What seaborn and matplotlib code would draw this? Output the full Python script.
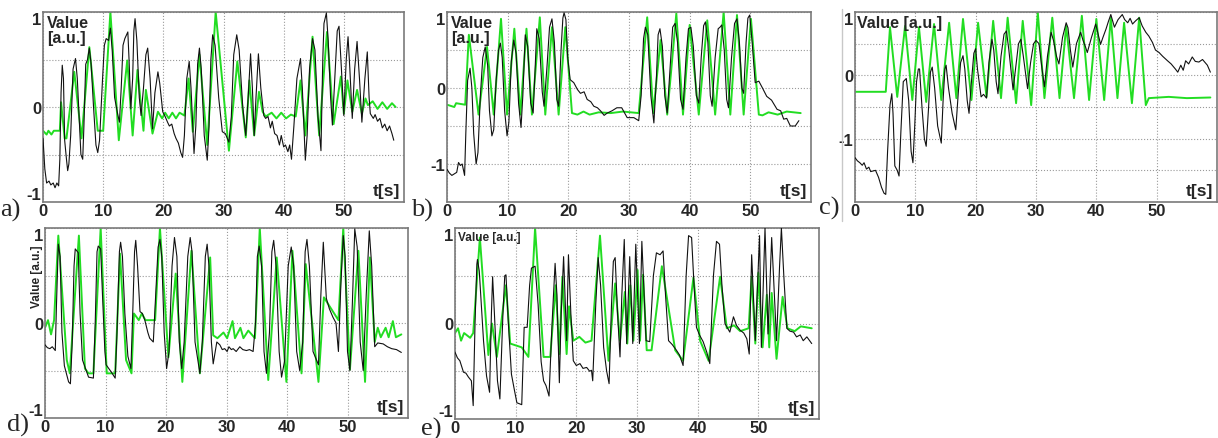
import numpy as np
import pandas as pd
import matplotlib
matplotlib.use("Agg")
import matplotlib.pyplot as plt
import seaborn as sns
from matplotlib.lines import Line2D

# -------------- data: (t [s], value [a.u.]) --------------

a_black = [(0, -0.33), (0.3, -0.65), (0.6, -0.80), (1.0, -0.78), (1.3, -0.82), (1.7, -0.80), (2.0, -0.85),
           (2.3, -0.80), (2.6, -0.83), (2.8, -0.55), (3.0, 0.15), (3.2, 0.44), (3.4, 0.30), (3.6, -0.35),
           (3.9, -0.55), (4.1, -0.67), (4.3, -0.60), (4.6, -0.30), (5.0, 0.40), (5.4, 0.51), (5.7, 0.30),
           (6.0, -0.10), (6.3, -0.50), (6.6, -0.55), (6.8, -0.20), (7.1, 0.45), (7.4, 0.50), (7.7, 0.62),
           (8.0, 0.45), (8.4, 0.0), (8.8, -0.40), (9.1, -0.48), (9.4, -0.35), (9.9, 0.30), (10.2, 0.65),
           (10.5, 0.72), (10.9, 0.70), (11.2, 0.83), (11.5, 0.60), (11.9, 0.10), (12.4, -0.07), (12.7, -0.16),
           (13.0, 0.20), (13.3, 0.65), (13.6, 0.72), (14.1, 0.79), (14.3, 0.50), (14.6, -0.02), (14.9, 0.30),
           (15.1, 0.80), (15.3, 0.93), (15.6, 0.70), (16.0, 0.10), (16.3, -0.09), (16.7, 0.20), (17.1, 0.55),
           (17.4, 0.62), (17.8, 0.30), (18.2, -0.23), (18.6, 0.15), (19.1, 0.37), (19.4, 0.25), (19.9, -0.05),
           (20.3, -0.10), (20.7, -0.16), (21.0, -0.20), (21.4, -0.18), (21.8, -0.28), (22.1, -0.33),
           (22.5, -0.38), (22.9, -0.48), (23.2, -0.53), (23.5, -0.30), (23.9, 0.30), (24.3, 0.48), (24.6, 0.20),
           (25.1, -0.49), (25.4, -0.20), (25.7, 0.45), (26.0, 0.62), (26.3, 0.40), (26.8, -0.30), (27.3, -0.56),
           (27.6, -0.20), (27.9, 0.50), (28.2, 0.76), (28.6, 0.65), (29.2, 0.10), (29.8, -0.26), (30.3, -0.28),
           (30.9, -0.37), (31.3, -0.10), (31.7, 0.55), (32.2, 0.76), (32.6, 0.60), (33.2, 0.0), (33.7, -0.30),
           (34.1, 0.10), (34.5, 0.56), (34.8, 0.20), (35.1, -0.30), (35.4, 0.10), (35.8, 0.56), (36.2, 0.20),
           (36.7, -0.09), (37.0, -0.12), (37.4, -0.10), (37.8, -0.22), (38.1, -0.15), (38.5, -0.28),
           (38.9, -0.30), (39.3, -0.40), (39.6, -0.30), (40.0, -0.42), (40.3, -0.40), (40.7, -0.47),
           (41.0, -0.40), (41.3, -0.55), (41.7, -0.20), (42.2, 0.30), (42.8, 0.51), (43.1, 0.20), (43.6, -0.56),
           (43.9, -0.30), (44.3, 0.40), (44.8, 0.72), (45.2, 0.60), (45.7, -0.10), (46.2, -0.46), (46.5, 0.50),
           (46.7, 0.88), (47.1, 0.99), (47.4, 0.70), (47.8, 0.10), (48.1, -0.19), (48.5, 0.30), (48.9, 0.80),
           (49.2, 0.85), (49.6, 0.40), (50.0, -0.09), (50.4, 0.50), (50.7, 0.74), (51.0, 0.40), (51.4, -0.12),
           (51.8, 0.40), (52.2, 0.69), (52.6, 0.30), (53.0, -0.16), (53.5, 0.30), (53.9, 0.58), (54.2, 0.10),
           (54.4, -0.07), (54.9, -0.12), (55.2, -0.08), (55.6, -0.15), (56.0, -0.12), (56.4, -0.22),
           (56.8, -0.18), (57.2, -0.25), (57.6, -0.20), (58.0, -0.28), (58.3, -0.35)]
a_green = [(0, -0.25), (0.6, -0.29), (0.9, -0.25), (1.4, -0.29), (1.8, -0.25), (2.8, -0.25), (3.0, 0.05),
           (3.6, -0.33), (3.9, -0.33), (5.2, 0.37), (6.4, -0.33), (7.7, 0.63), (9.1, -0.25), (10.0, -0.25),
           (11.2, 1.0), (12.6, -0.35), (14.0, 0.49), (14.9, -0.30), (15.7, 0.39), (16.7, -0.25), (17.1, 0.18),
           (18.2, -0.28), (19.1, -0.05), (19.8, -0.12), (20.3, -0.06), (20.9, -0.12), (21.5, -0.06),
           (22.1, -0.12), (22.7, -0.06), (23.5, -0.09), (24.2, 0.30), (24.9, -0.26), (26.0, 0.55),
           (27.3, -0.40), (28.7, 1.0), (30.9, -0.46), (32.3, 0.48), (33.7, -0.32), (34.3, 0.28), (35.1, -0.30),
           (35.9, 0.16), (36.5, -0.05), (37.0, -0.10), (38.0, -0.06), (38.8, -0.12), (39.6, -0.06),
           (40.4, -0.12), (41.2, -0.08), (42.0, -0.10), (42.8, 0.28), (43.6, -0.30), (44.8, 0.74),
           (45.9, -0.30), (47.2, 0.79), (48.3, -0.18), (49.5, 0.32), (50.0, -0.07), (50.6, 0.28), (51.4, -0.05),
           (52.2, 0.18), (53.0, -0.07), (53.6, 0.09), (54.0, 0.02), (54.8, 0.06), (55.6, -0.02), (56.4, 0.05),
           (57.2, -0.02), (58.0, 0.04), (58.6, 0.0)]

b_black = [(0, -1.07), (0.4, -1.12), (0.8, -1.15), (1.2, -1.13), (1.6, -1.11), (1.9, -0.98), (2.2, -1.02),
           (2.5, -1.0), (2.9, -1.15), (3.1, -0.60), (3.4, 0.10), (3.8, 0.26), (4.1, 0.0), (4.4, -0.60),
           (4.8, -1.0), (5.1, -0.85), (5.5, -0.10), (5.9, 0.40), (6.3, 0.54), (6.7, 0.30), (7.0, -0.30),
           (7.4, -0.63), (7.7, -0.55), (8.1, 0.10), (8.5, 0.50), (8.8, 0.59), (9.1, 0.40), (9.5, -0.30),
           (9.9, -0.63), (10.2, -0.45), (10.6, 0.35), (11.0, 0.63), (11.4, 0.45), (11.8, -0.20), (12.2, -0.52),
           (12.5, -0.10), (12.9, 0.70), (13.3, 0.55), (13.8, -0.20), (14.2, -0.33), (14.5, 0.20), (14.8, 0.78),
           (15.2, 0.65), (15.7, -0.05), (16.0, -0.24), (16.5, 0.30), (16.9, 0.80), (17.3, 0.91), (17.7, 0.60),
           (18.1, -0.15), (18.4, -0.24), (18.8, 0.50), (19.1, 0.92), (19.3, 0.99), (19.6, 0.90), (19.9, 0.40),
           (20.3, 0.11), (20.9, 0.07), (21.5, -0.02), (22.0, -0.07), (22.6, -0.05), (23.1, -0.15),
           (23.7, -0.18), (24.2, -0.24), (24.8, -0.26), (25.3, -0.30), (25.9, -0.36), (26.4, -0.33),
           (27.2, -0.30), (28.0, -0.26), (28.8, -0.26), (29.7, -0.39), (30.8, -0.39), (31.6, -0.43),
           (32.0, -0.10), (32.4, 0.65), (32.7, 0.80), (33.1, 0.70), (33.6, -0.10), (34.1, -0.46), (34.5, 0.10),
           (34.8, 0.70), (35.1, 0.78), (35.5, 0.55), (35.9, -0.10), (36.3, -0.33), (36.8, 0.30), (37.2, 0.80),
           (37.6, 0.85), (38.0, 0.60), (38.5, -0.15), (38.9, -0.28), (39.4, 0.40), (39.8, 0.78), (40.2, 0.80),
           (40.6, 0.55), (41.1, -0.10), (41.5, -0.20), (41.9, 0.40), (42.3, 0.82), (42.6, 0.87), (43.0, 0.60),
           (43.4, -0.10), (43.7, -0.24), (44.2, 0.40), (44.7, 0.78), (45.0, 0.80), (45.3, 0.83), (45.7, 0.50),
           (46.1, -0.15), (46.4, -0.26), (46.9, 0.40), (47.4, 0.85), (47.8, 0.91), (48.2, 0.60), (48.6, 0.0),
           (48.9, -0.07), (49.3, 0.60), (49.6, 0.92), (49.9, 0.96), (50.3, 0.60), (50.8, 0.07), (51.4, 0.09),
           (52.0, 0.0), (52.7, -0.11), (53.5, -0.16), (54.4, -0.28), (55.0, -0.30), (55.5, -0.41),
           (56.0, -0.40), (56.6, -0.50), (57.4, -0.50), (58.0, -0.43)]
b_green = [(0, -0.22), (1.2, -0.25), (1.5, -0.20), (3.0, -0.22), (3.6, 0.70), (5.2, -0.35), (6.6, 0.54),
           (7.7, -0.35), (8.9, 0.91), (9.9, -0.35), (11.1, 0.78), (12.1, -0.35), (13.1, 0.78), (14.0, -0.35),
           (15.3, 0.93), (16.2, -0.35), (17.3, 0.80), (18.4, -0.35), (19.5, 0.80), (20.6, -0.33),
           (21.5, -0.35), (22.5, -0.31), (23.5, -0.35), (25.0, -0.32), (27.0, -0.33), (29.0, -0.31),
           (31.6, -0.33), (33.0, 0.93), (34.0, -0.33), (35.2, 0.63), (36.3, -0.35), (37.8, 0.98),
           (38.9, -0.35), (40.0, 0.83), (41.5, -0.35), (42.9, 0.89), (44.2, -0.35), (45.6, 1.0), (46.7, -0.35),
           (47.8, 0.96), (48.9, -0.35), (50.1, 0.91), (51.4, -0.35), (52.0, -0.36), (53.0, -0.32),
           (54.5, -0.35), (56.0, -0.31), (58.3, -0.33)]

c_black = [(0, -1.30), (0.4, -1.35), (0.8, -1.38), (1.2, -1.42), (1.5, -1.38), (1.9, -1.48), (2.3, -1.45),
           (2.6, -1.52), (3.0, -1.51), (3.4, -1.50), (3.9, -1.61), (4.4, -1.77), (4.8, -1.86), (5.1, -1.88),
           (5.4, -1.20), (5.8, -0.47), (6.1, -0.29), (6.3, -0.60), (6.6, -1.43), (7.0, -1.50), (7.3, -1.59),
           (7.6, -0.90), (8.0, -0.10), (8.5, -0.05), (8.9, -0.40), (9.3, -1.20), (9.6, -1.38), (9.9, -0.80),
           (10.2, -0.10), (10.5, 0.10), (10.7, 0.10), (11.1, -0.50), (11.5, -1.00), (11.8, -1.12),
           (12.2, -0.50), (12.5, 0.05), (12.8, 0.13), (13.2, -0.20), (13.7, -0.80), (14.3, -1.07),
           (14.6, -0.40), (14.9, 0.10), (15.1, 0.16), (15.5, -0.20), (16.1, -0.60), (16.7, -0.86),
           (17.1, -0.30), (17.5, 0.20), (17.9, 0.31), (18.2, 0.10), (18.6, -0.40), (18.9, -0.60), (19.3, -0.10),
           (19.7, 0.35), (20.0, 0.42), (20.3, 0.10), (20.9, -0.34), (21.3, -0.30), (21.8, -0.36), (22.2, 0.20),
           (22.7, 0.57), (23.0, 0.40), (23.4, -0.10), (23.7, -0.29), (24.2, 0.30), (24.7, 0.65), (25.1, 0.70),
           (25.5, 0.40), (26.2, -0.23), (26.6, 0.10), (27.1, 0.50), (27.5, 0.57), (27.9, 0.30), (28.6, -0.21),
           (29.1, 0.20), (29.6, 0.50), (30.0, 0.55), (30.5, 0.50), (31.0, 0.10), (31.4, -0.18), (31.9, 0.30),
           (32.5, 0.68), (32.9, 0.55), (33.4, 0.30), (33.8, 0.18), (34.4, 0.60), (35.0, 0.83), (35.3, 0.75),
           (35.7, 0.40), (36.1, 0.13), (36.7, 0.50), (37.4, 0.68), (37.8, 0.55), (38.2, 0.45), (38.5, 0.36),
           (39.2, 0.60), (39.9, 0.81), (40.3, 0.65), (40.7, 0.49), (41.1, 0.60), (41.6, 0.73), (42.0, 0.85),
           (42.4, 0.96), (43.0, 0.76), (43.6, 0.88), (44.3, 0.96), (44.7, 0.88), (45.2, 0.83), (45.6, 0.90),
           (46.0, 0.81), (46.5, 0.86), (47.1, 0.91), (47.6, 0.78), (48.2, 0.68), (48.7, 0.62), (49.3, 0.52),
           (49.8, 0.40), (50.4, 0.36), (51.0, 0.30), (51.8, 0.23), (52.4, 0.18), (53.1, 0.10), (53.5, 0.05),
           (54.0, 0.16), (54.4, 0.08), (54.8, 0.23), (55.3, 0.18), (55.9, 0.29), (56.4, 0.22), (57.0, 0.21),
           (57.6, 0.25), (58.4, 0.16), (58.9, 0.05)]
c_green = [(0, -0.26), (5.1, -0.26), (5.8, 0.76), (7.0, -0.34), (8.3, 0.78), (9.5, -0.39), (10.6, 0.76),
           (11.8, -0.42), (13.1, 0.81), (14.3, -0.39), (15.6, 0.83), (16.8, -0.36), (17.9, 0.89), (19.3, -0.39),
           (20.4, 0.83), (21.8, -0.34), (22.9, 0.86), (24.2, -0.36), (25.3, 0.91), (26.7, -0.44), (27.8, 0.86),
           (29.2, -0.47), (30.3, 0.99), (31.4, -0.36), (32.7, 0.91), (33.9, -0.36), (35.0, 0.78), (36.3, -0.36),
           (37.6, 0.94), (38.8, -0.39), (40.0, 0.89), (41.3, -0.39), (42.4, 0.91), (43.5, -0.36), (44.6, 0.83),
           (45.9, -0.44), (47.1, 0.91), (48.2, -0.47), (48.7, -0.36), (52.0, -0.34), (55.0, -0.36),
           (58.9, -0.35)]

d_black = [(0, -0.23), (0.4, -0.26), (0.8, -0.27), (1.2, -0.25), (1.7, -0.29), (1.9, 0.20), (2.2, 0.83),
           (2.5, 0.70), (2.8, -0.10), (3.2, -0.45), (3.9, -0.62), (4.2, -0.64), (4.5, -0.20), (4.8, 0.60),
           (5.0, 0.78), (5.5, 0.74), (5.8, 0.10), (6.2, -0.39), (7.2, -0.57), (8.0, -0.58), (8.3, 0.0),
           (8.6, 0.75), (8.8, 0.81), (9.2, 0.78), (9.5, 0.30), (9.9, -0.30), (10.1, -0.44), (11.0, -0.52),
           (11.6, -0.58), (11.9, -0.10), (12.3, 0.75), (12.5, 0.85), (12.8, 0.70), (13.2, 0.10), (13.7, -0.35),
           (14.2, -0.48), (14.5, 0.10), (14.8, 0.75), (15.0, 0.87), (15.3, 0.60), (15.7, 0.12), (16.1, 0.10),
           (16.5, 0.03), (17.0, -0.10), (17.3, -0.16), (17.9, -0.20), (18.3, 0.30), (18.7, 0.80), (19.0, 0.88),
           (19.3, 0.70), (19.7, -0.10), (20.1, -0.48), (20.5, -0.30), (21.0, 0.60), (21.4, 0.90), (21.8, 0.70),
           (22.2, -0.20), (22.6, -0.48), (23.0, -0.20), (23.6, 0.70), (24.0, 0.90), (24.3, 0.75), (24.8, -0.20),
           (25.6, -0.53), (26.0, -0.20), (26.5, 0.70), (26.8, 0.83), (27.1, 0.60), (27.5, -0.20), (27.8, -0.43),
           (28.4, -0.20), (28.9, -0.23), (29.3, -0.28), (29.7, -0.27), (30.1, -0.30), (30.4, -0.25),
           (30.8, -0.28), (31.1, -0.27), (31.6, -0.30), (32.2, -0.25), (32.7, -0.28), (33.3, -0.29),
           (33.8, -0.28), (34.4, -0.30), (34.8, 0.0), (35.1, 0.70), (35.4, 0.81), (35.8, 0.60), (36.2, -0.30),
           (36.6, -0.53), (37.1, -0.10), (37.5, 0.75), (37.8, 0.87), (38.2, 0.60), (38.7, -0.30), (39.1, -0.57),
           (39.6, -0.40), (40.2, 0.60), (40.7, 0.80), (41.1, 0.60), (41.6, -0.30), (42.1, -0.50), (42.6, -0.20),
           (43.0, 0.75), (43.3, 0.88), (43.7, 0.60), (44.3, -0.30), (45.2, -0.44), (45.6, 0.30), (46.0, 0.85),
           (46.3, 0.50), (46.5, 0.26), (47.0, 0.15), (47.6, 0.06), (48.1, 0.0), (48.5, -0.30), (48.9, 0.40),
           (49.3, 0.92), (49.6, 0.70), (50.0, -0.30), (50.4, -0.50), (50.8, 0.20), (51.2, 0.99), (51.6, 0.80),
           (52.1, -0.20), (52.6, -0.50), (53.1, 0.30), (53.6, 0.97), (54.0, 0.60), (54.5, -0.25), (55.0, -0.21),
           (55.9, -0.22), (56.6, -0.25), (57.3, -0.27), (58.1, -0.28), (58.9, -0.31)]
d_green = [(0, -0.05), (0.5, 0.03), (1.0, -0.12), (1.5, 0.03), (2.2, 0.92), (3.6, -0.39), (4.1, -0.53),
           (5.6, 0.92), (6.6, -0.48), (7.2, -0.53), (8.0, -0.53), (9.2, 1.0), (10.2, -0.53), (11.6, -0.53),
           (12.4, 0.73), (13.4, -0.39), (14.3, -0.53), (14.7, 0.10), (15.5, 0.03), (16.0, 0.10), (16.6, 0.03),
           (17.2, 0.03), (18.2, 0.03), (19.0, 1.0), (20.4, -0.36), (21.6, 0.52), (22.7, -0.62), (24.2, 0.76),
           (25.6, -0.53), (27.3, 0.69), (27.8, -0.13), (28.5, -0.16), (29.5, -0.10), (30.1, -0.16),
           (31.0, 0.02), (31.4, -0.16), (32.3, -0.05), (32.8, -0.16), (33.6, -0.08), (34.7, -0.16), (35.5, 1.0),
           (36.9, -0.60), (38.3, 0.69), (39.9, -0.62), (40.9, 0.76), (42.4, -0.53), (43.1, 0.62), (45.2, -0.62),
           (46.1, 0.27), (47.1, 0.17), (48.5, 0.03), (49.3, 1.0), (50.4, -0.49), (51.8, 0.76), (52.9, -0.62),
           (53.7, 0.69), (54.5, -0.20), (55.0, -0.05), (55.5, -0.15), (56.3, -0.05), (56.8, -0.15),
           (57.5, 0.02), (58.0, -0.15), (58.9, -0.12)]

e_black = [(0, -0.30), (0.4, -0.36), (0.8, -0.39), (1.1, -0.45), (1.4, -0.51), (1.8, -0.52), (2.2, -0.56),
           (2.7, -0.60), (3.0, -0.86), (3.3, 0.0), (3.6, 0.62), (3.7, 0.67), (4.0, 0.55), (4.7, -0.18),
           (5.2, -0.55), (5.7, -0.72), (6.0, 0.10), (6.2, 0.49), (6.5, 0.10), (7.0, -0.60), (7.4, -0.79),
           (7.9, 0.10), (8.2, 0.50), (8.4, 0.51), (8.8, 0.0), (9.3, -0.53), (9.8, -0.70), (10.2, -0.83),
           (11.0, -0.85), (11.4, -0.04), (11.9, -0.04), (12.3, 0.40), (12.6, 0.58), (13.2, 0.60), (13.7, 0.20),
           (14.2, -0.40), (14.6, -0.60), (15.0, -0.65), (15.5, -0.76), (16.0, 0.0), (16.5, 0.63), (16.8, 0.30),
           (17.2, -0.62), (17.5, 0.10), (17.9, 0.70), (18.4, -0.18), (18.7, 0.72), (19.1, 0.10), (19.5, -0.39),
           (20.0, -0.44), (20.6, -0.42), (21.1, -0.47), (21.7, -0.46), (22.2, -0.50), (22.5, -0.49),
           (22.7, -0.60), (23.2, 0.20), (23.6, 0.69), (24.0, 0.40), (24.5, -0.25), (25.0, -0.50), (25.4, -0.63),
           (25.8, 0.20), (26.1, 0.65), (26.4, 0.69), (26.8, 0.10), (27.2, -0.35), (27.5, 0.30), (27.9, 0.88),
           (28.3, -0.21), (28.8, 0.70), (29.3, -0.21), (29.8, 0.83), (30.4, -0.21), (30.8, 0.86), (31.5, -0.18),
           (32.1, -0.19), (32.7, 0.50), (33.2, 0.74), (33.8, 0.72), (34.3, 0.76), (34.7, 0.30), (35.2, -0.18),
           (35.8, -0.22), (36.5, -0.28), (37.0, -0.33), (37.6, -0.44), (38.1, 0.50), (38.5, 0.92), (39.0, 0.90),
           (39.4, 0.40), (39.8, -0.04), (40.3, -0.12), (40.9, -0.19), (41.5, -0.30), (42.0, -0.42),
           (42.6, 0.50), (43.1, 0.86), (43.6, 0.83), (44.0, 0.40), (44.5, 0.0), (45.3, -0.09), (45.9, 0.07),
           (46.4, -0.02), (47.0, -0.07), (47.6, -0.10), (48.1, -0.16), (48.5, -0.32), (48.9, 0.72),
           (49.5, -0.18), (50.2, 0.92), (50.5, -0.25), (51.1, 1.0), (51.6, -0.11), (52.2, 0.90), (53.0, -0.18),
           (53.5, 0.60), (53.8, 1.0), (54.2, 0.50), (54.7, -0.05), (55.2, -0.08), (55.8, -0.09), (56.3, -0.14),
           (56.9, -0.12), (57.4, -0.18), (58.0, -0.14), (58.8, -0.21)]
e_green = [(0, -0.10), (0.5, -0.05), (1.0, -0.18), (1.5, -0.10), (2.5, -0.15), (3.0, -0.10), (4.1, 0.90),
           (5.5, -0.33), (6.1, 0.0), (6.9, -0.35), (8.4, 0.40), (9.1, -0.21), (11.0, -0.25), (12.1, -0.35),
           (13.2, 1.0), (14.6, -0.35), (15.7, -0.35), (16.6, 0.40), (17.2, -0.32), (17.7, 0.49), (18.4, -0.32),
           (18.8, 0.18), (19.5, -0.18), (20.5, -0.14), (21.5, -0.20), (22.5, -0.18), (23.9, 0.92),
           (25.3, -0.39), (26.4, 0.42), (27.2, -0.18), (28.0, 0.33), (28.4, -0.21), (28.9, 0.40), (29.4, -0.18),
           (30.1, 0.56), (30.5, -0.18), (31.0, 0.51), (31.6, -0.28), (32.4, -0.28), (34.1, 0.60), (36.3, -0.28),
           (37.6, -0.39), (39.3, 0.48), (40.4, -0.18), (41.8, -0.39), (43.7, 0.49), (44.8, -0.05),
           (46.0, -0.02), (47.0, -0.08), (48.4, -0.05), (48.9, 0.49), (49.5, -0.21), (50.0, 0.53),
           (50.7, -0.25), (51.4, 0.30), (51.8, -0.25), (52.2, 0.32), (53.0, -0.37), (54.0, 0.28), (54.8, -0.05),
           (56.0, -0.08), (57.0, -0.03), (58.8, -0.05)]

x_ticks = [0, 10, 20, 30, 40, 50]
letters = ["a)", "b)", "c)", "d)", "e)"]

# -------------- layout (pixels in a 1218 x 439 figure) --------------
W, H = 1218, 439
panels = [
    # black, green, (left, top, right, bottom), ylim
    (a_black, a_green, (43, 13, 404, 203), (-1, 1)),
    (b_black, b_green, (447, 13, 811, 203), (-1.5, 1)),
    (c_black, c_green, (855, 13, 1217, 203), (-2, 1)),
    (d_black, d_green, (45, 229, 408, 419), (-1, 1)),
    (e_black, e_green, (455, 229, 819, 420), (-1, 1)),
]
letter_pos = [(0, 217), (411, 217), (819, 215), (7, 432), (421, 436)]

GREEN = "#22dd22"
sns.set_style("white")
plt.rcParams["font.family"] = ["Liberation Sans", "DejaVu Sans"]

fig = plt.figure(figsize=(W / 100, H / 100), dpi=100)

for i, (blk, grn, (l, t, r, b), ylim) in enumerate(panels):
    ax = fig.add_axes([l / W, 1 - b / H, (r - l) / W, (b - t) / H])
    dfb = pd.DataFrame(blk, columns=["t", "v"])
    dfg = pd.DataFrame(grn, columns=["t", "v"])
    sns.lineplot(data=dfb, x="t", y="v", ax=ax, color="#111111", lw=0.8, estimator=None, zorder=3)
    sns.lineplot(data=dfg, x="t", y="v", ax=ax, color=GREEN, lw=1.4, estimator=None, zorder=2)
    ax.set_xlim(0, 60)
    ax.set_ylim(*ylim)
    yt = np.arange(ylim[0], ylim[1] + 0.01, 0.5)
    ylab = [("%d" % v if abs(v - round(v)) < 1e-6 and v >= -1 else "") for v in yt]
    ax.set_yticks(yt)
    ax.set_yticklabels(ylab)
    ax.set_xticks(x_ticks)
    ax.set_xticklabels([str(x) for x in x_ticks])
    ax.tick_params(length=0, pad=1, labelsize=12)
    for lab in ax.get_xticklabels() + ax.get_yticklabels():
        lab.set_fontweight("bold")
    labs = ax.get_yticklabels()
    labs[-1].set_va("top")
    if ylim[0] == -1:
        labs[0].set_va("bottom")
    ax.grid(True, ls=":", color="#9a9a9a", lw=0.8)
    for s in ax.spines.values():
        s.set_color("#7a7a7a")
        s.set_linewidth(1.2)
    ax.set_xlabel("")
    ax.set_ylabel("")
    ax.text(0.99, 0.02, "t[s]", transform=ax.transAxes, ha="right", va="bottom",
            fontsize=12.5, fontweight="bold")
    if i in (0, 1):
        ax.text(0.012, 0.985, "Value\n[a.u.]", transform=ax.transAxes, ha="left", va="top",
                fontsize=11.5, fontweight="bold", linespacing=1.05)
    elif i == 2:
        ax.text(0.006, 0.985, "Value [a.u.]", transform=ax.transAxes, ha="left", va="top",
                fontsize=11.5, fontweight="bold")
    elif i == 4:
        ax.text(0.008, 0.985, "Value [a.u.]", transform=ax.transAxes, ha="left", va="top",
                fontsize=8.5, fontweight="bold")
    lx, ly = letter_pos[i]
    fig.text(lx / W, 1 - ly / H, letters[i], ha="left", va="baseline", fontsize=19,
             family="Liberation Serif")

# vertical y label of panel d
fig.text(37 / W, 1 - 277 / H, "Value [a.u.]", rotation=90, ha="center", va="center",
         fontsize=8.5, fontweight="bold")

# faint separator line left of panel c
fig.add_artist(Line2D([842 / W, 842 / W], [1 - 222 / H, 1 - 10 / H], color="#c8c8c8", lw=1))

fig.savefig("out.png", dpi=100)
